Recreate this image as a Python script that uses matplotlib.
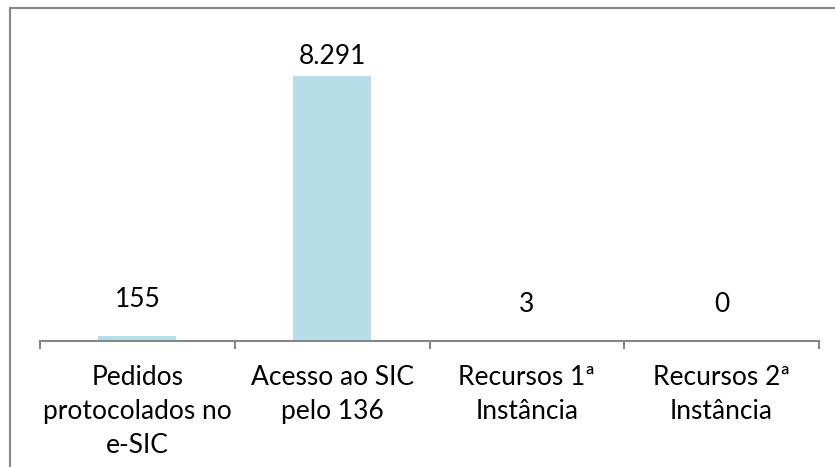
import matplotlib.pyplot as plt
from matplotlib.patches import Rectangle
import numpy as np


CATEGORIES = [
    "Pedidos\nprotocolados no\ne-SIC",
    "Acesso ao SIC\npelo 136",
    "Recursos 1ª\nInstância",
    "Recursos 2ª\nInstância",
]
VALUES = [155, 8291, 3, 0]
VALUE_LABELS = ["155", "8.291", "3", "0"]

BAR_COLOR = "#B7DEE8"
AXIS_COLOR = "#868686"
FONT = ["Lato", "DejaVu Sans"]
FONT_SIZE = 19


def main():
    plt.rcParams["font.family"] = FONT

    fig = plt.figure(figsize=(8.35, 4.67), dpi=100)
    ax = fig.add_axes([40 / 835, 126 / 467, 779 / 835, 320 / 467])

    x = np.arange(len(CATEGORIES))
    ax.bar(x, VALUES, width=0.4, color=BAR_COLOR)

    # Excel lifts labels of near-empty bars further off the axis
    for xi, v, lab in zip(x, VALUES, VALUE_LABELS):
        pad = 5 if v > 1000 else 17
        ax.annotate(lab, (xi, v), xytext=(0, pad), textcoords="offset points",
                    ha="center", va="bottom", fontsize=FONT_SIZE)

    ax.set_xlim(-0.5, len(CATEGORIES) - 0.5)
    ax.set_ylim(0, 10000)

    for side in ("top", "right", "left"):
        ax.spines[side].set_visible(False)
    ax.spines["bottom"].set_color(AXIS_COLOR)
    ax.spines["bottom"].set_linewidth(1.5)

    ax.set_yticks([])
    ax.set_xticks(np.arange(len(CATEGORIES) + 1) - 0.5)
    ax.set_xticklabels([])
    ax.tick_params(axis="x", which="major", direction="out", length=6,
                   width=1.5, color=AXIS_COLOR)
    ax.set_xticks(x, minor=True)
    ax.set_xticklabels(CATEGORIES, minor=True, fontsize=FONT_SIZE,
                       linespacing=1.45, va="top")
    ax.tick_params(axis="x", which="minor", length=0, pad=17)

    # chart frame (runs off the right and bottom edges like the source)
    fig.patches.append(Rectangle((10 / 835, -0.1), 1.0, 1.1 - 8.5 / 467,
                                 transform=fig.transFigure, fill=False,
                                 edgecolor=AXIS_COLOR, linewidth=1.5))

    fig.savefig("out.png", dpi=100)


if __name__ == "__main__":
    main()
